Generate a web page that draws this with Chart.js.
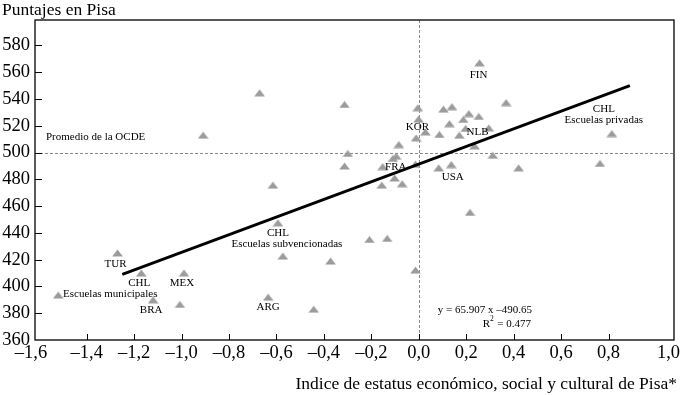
<!DOCTYPE html>
<html>
<head>
<meta charset="utf-8">
<script src="https://cdn.jsdelivr.net/npm/chart.js@4.4.0/dist/chart.umd.min.js"></script>
<style>
  html, body { margin: 0; padding: 0; background: #fff; }
  canvas { display: block; }
</style>
</head>
<body>
<canvas id="pisaChart" width="680" height="395"></canvas>
<script>
// axis setup
var xTicks = [-1.6, -1.4, -1.2, -1.0, -0.8, -0.6, -0.4, -0.2, 0.0, 0.2, 0.4, 0.6, 0.8, 1.0];
var xTickLabels = ['–1,6', '–1,4', '–1,2', '–1,0', '–0,8', '–0,6', '–0,4', '–0,2', '0,0', '0,2', '0,4', '0,6', '0,8', '1,0'];
var yTicks = [360, 380, 400, 420, 440, 460, 480, 500, 520, 540, 560, 580];
var xMin = -1.618, xMax = 1.076;
var yMin = 360, yMax = 599;
var oecdAverage = 500;

// labelled points
var labelNames = ['TUR', 'CHL\nEscuelas municipales', 'BRA', 'MEX', 'ARG', 'CHL\nEscuelas subvencionadas',
                  'FIN', 'KOR', 'NLB', 'FRA', 'USA', 'CHL\nEscuelas privadas'];
var labelX = [-1.27, -1.17, -1.12, -0.99, -0.635, -0.594, 0.256, 0.028, 0.197, -0.152, 0.084, 0.814];
var labelY = [425, 410, 390, 410, 392, 447.5, 567, 515.4, 518, 489.5, 488.6, 514.2];

// other countries (unlabelled)
var otherX = [-1.52, -1.007, -0.443, -0.573, -0.372, -0.615, -0.671, -0.909, -0.208, -0.133,
              0.216, -0.014, -0.313, -0.299, -0.313, -0.004, -0.001, -0.011, -0.084, -0.095,
              -0.109, -0.014, -0.102, -0.070, -0.156, 0.104, 0.140, 0.368, 0.211, 0.253,
              0.188, 0.129, 0.087, 0.171, 0.295, 0.235, 0.312, 0.421, 0.137, 0.764];
var otherY = [393.6, 386.6, 383, 422.7, 419, 475.7, 544.6, 513, 435.1, 435.9,
              455.3, 412.2, 535.9, 499.3, 490, 533.5, 525, 511, 506, 497.3,
              495.6, 491.3, 481, 476.7, 475.7, 532.4, 534.3, 537.3, 529.1, 527,
              524.7, 521.6, 513.5, 513, 518.4, 505, 498, 488.6, 491, 491.9];

// regression line ends
var trendX = [-1.25, 0.89];
var trendY = [409, 550];

// pixel offsets of the label text from its point
var labelDx = [-2, -2, -2, -2, 0, 0, -1, -8, 12, 13, 14, -8];
var labelDy = [11, 10, 10, 10, 10, 10, 12, -5, 4, 0, 9, -24];

function toPoints(xs, ys){
  var out = [];
  for (var i = 0; i < xs.length; i++) out.push({x: xs[i], y: ys[i]});
  return out;
}

// flat grey triangle marker
var marker = document.createElement('canvas');
marker.width = 11; marker.height = 8;
(function(){
  var c = marker.getContext('2d');
  c.fillStyle = '#9b9b9b';
  c.beginPath();
  c.moveTo(5.5, 0.5); c.lineTo(10.8, 7.6); c.lineTo(0.2, 7.6);
  c.closePath(); c.fill();
})();

var serif = '"Liberation Serif", "DejaVu Serif", serif';

var decorPlugin = {
  id: 'decor',
  beforeDatasetsDraw: function(chart){
    var ctx = chart.ctx, a = chart.chartArea;
    var xs = chart.scales.x, ys = chart.scales.y;
    ctx.save();
    ctx.strokeStyle = '#8a8a8a';
    ctx.lineWidth = 1;
    ctx.setLineDash([3, 2]);
    var yAvg = Math.round(ys.getPixelForValue(oecdAverage)) + 0.5;
    ctx.beginPath(); ctx.moveTo(a.left, yAvg); ctx.lineTo(a.right, yAvg); ctx.stroke();
    var x0 = Math.round(xs.getPixelForValue(0)) + 0.5;
    ctx.beginPath(); ctx.moveTo(x0, a.top); ctx.lineTo(x0, a.bottom); ctx.stroke();
    ctx.restore();
  },
  afterDatasetsDraw: function(chart){
    var ctx = chart.ctx, a = chart.chartArea;
    var xs = chart.scales.x, ys = chart.scales.y;
    ctx.save();
    // frame
    ctx.strokeStyle = '#000';
    ctx.lineWidth = 1.3;
    ctx.strokeRect(a.left, a.top, a.right - a.left, a.bottom - a.top);
    // inner ticks
    ctx.lineWidth = 1;
    ctx.beginPath();
    for (var i = 1; i < xTicks.length - 1; i++){
      var px = Math.round(xs.getPixelForValue(xTicks[i])) + 0.5;
      ctx.moveTo(px, a.bottom); ctx.lineTo(px, a.bottom - 6);
    }
    for (var j = 1; j < yTicks.length; j++){
      var py = Math.round(ys.getPixelForValue(yTicks[j])) + 0.5;
      ctx.moveTo(a.left, py); ctx.lineTo(a.left + 7, py);
    }
    ctx.stroke();

    // x tick labels (first and last sit on the frame)
    ctx.fillStyle = '#000';
    ctx.font = '18.5px ' + serif;
    ctx.textBaseline = 'middle';
    for (var k = 0; k < xTicks.length; k++){
      var lx = xs.getPixelForValue(xTicks[k]);
      ctx.textAlign = 'center';
      if (k === 0) lx = a.left - 4;
      if (k === xTicks.length - 1){ lx = chart.width; ctx.textAlign = 'right'; }
      ctx.fillText(xTickLabels[k], lx, a.bottom + 13);
    }

    // titles
    ctx.font = '17.5px ' + serif;
    ctx.textAlign = 'left';
    ctx.fillText('Puntajes en Pisa', 2, 10);
    ctx.textAlign = 'right';
    ctx.fillText('Indice de estatus económico, social y cultural de Pisa*', chart.width - 3, 384);

    // point labels
    ctx.font = '11px ' + serif;
    ctx.textAlign = 'center';
    for (var m = 0; m < labelNames.length; m++){
      var bx = xs.getPixelForValue(labelX[m]) + labelDx[m];
      var by = ys.getPixelForValue(labelY[m]) + labelDy[m];
      var lines = labelNames[m].split('\n');
      for (var n = 0; n < lines.length; n++){
        var shift = (n > 0 && lines[n].indexOf('municipales') >= 0) ? -29 : (n > 0 && lines[n].indexOf('subvencionadas') >= 0 ? 9 : 0);
        ctx.fillText(lines[n], bx + shift, by + n * 11);
      }
    }

    ctx.textAlign = 'left';
    ctx.font = '11px ' + serif;
    ctx.fillText('Promedio de la OCDE', a.left + 11, ys.getPixelForValue(oecdAverage) - 15);

    // regression equation
    ctx.font = '11px ' + serif;
    ctx.textAlign = 'right';
    ctx.fillText('y = 65.907 x –490.65', 532, 310);
    ctx.fillText('= 0.477', 531, 324);
    ctx.fillText('R', 490, 324);
    ctx.font = '7.5px ' + serif;
    ctx.textAlign = 'left';
    ctx.fillText('2', 490, 319);
    ctx.restore();
  }
};

var ctx = document.getElementById('pisaChart').getContext('2d');
new Chart(ctx, {
  type: 'scatter',
  data: {
    datasets: [
      {
        type: 'line',
        data: toPoints(trendX, trendY),
        borderColor: '#000',
        borderWidth: 2.8,
        pointRadius: 0,
        fill: false
      },
      {
        data: toPoints(labelX, labelY),
        pointStyle: marker,
        pointRadius: 5
      },
      {
        data: toPoints(otherX, otherY),
        pointStyle: marker,
        pointRadius: 5
      }
    ]
  },
  plugins: [decorPlugin],
  options: {
    responsive: false,
    animation: false,
    layout: { padding: { top: 20, right: 5, left: 0, bottom: 0 } },
    plugins: { legend: { display: false }, tooltip: { enabled: false } },
    scales: {
      x: {
        type: 'linear', min: xMin, max: xMax,
        grid: { display: false, drawTicks: false },
        border: { display: false },
        ticks: { display: false },
        afterFit: function(s){ s.height = 55; }
      },
      y: {
        type: 'linear', min: yMin, max: yMax,
        grid: { display: false, drawTicks: false },
        border: { display: false },
        afterBuildTicks: function(s){ s.ticks = yTicks.map(function(v){ return {value: v}; }); },
        ticks: { color: '#000', padding: 5, font: { family: serif, size: 18.5 } },
        afterFit: function(s){ s.width = 35; }
      }
    }
  }
});
</script>
</body>
</html>
